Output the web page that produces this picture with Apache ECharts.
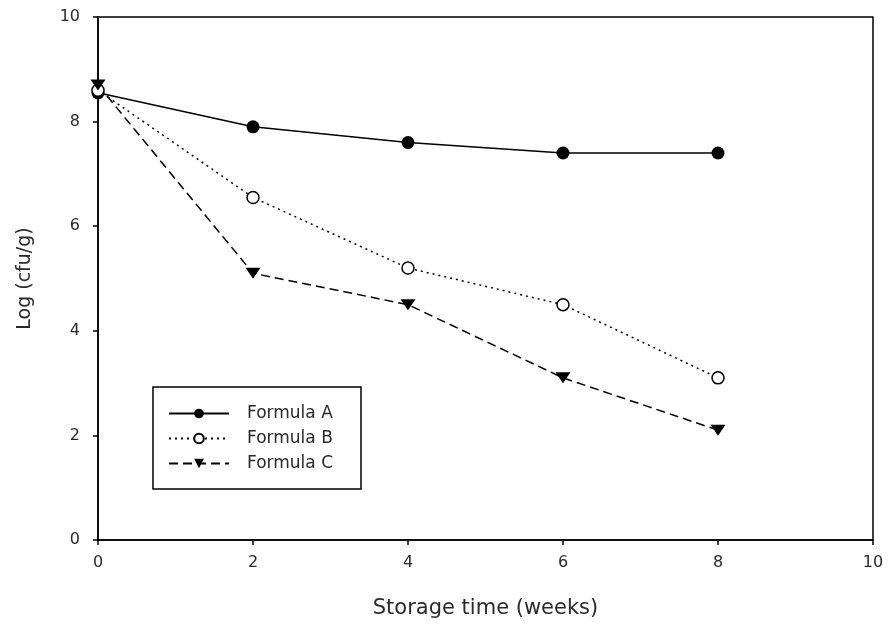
<!DOCTYPE html>
<html>
<head>
<meta charset="utf-8">
<script src="https://cdn.jsdelivr.net/npm/echarts@6/dist/echarts.min.js"></script>
<style>
  html, body { margin: 0; padding: 0; background: #fff; }
  #chart { width: 888px; height: 629px; }
</style>
</head>
<body>
<div id="chart"></div>
<script>
// Storage weeks on the x axis
const weeks = [0, 2, 4, 6, 8];
// Viable counts, log(cfu/g), for each formula
const formulaA = [8.55, 7.9, 7.6, 7.4, 7.4];
const formulaB = [8.6, 6.55, 5.2, 4.5, 3.1];
const formulaC = [8.7, 5.1, 4.5, 3.1, 2.1];
const seriesNames = ['Formula A', 'Formula B', 'Formula C'];
const xTicks = [0, 2, 4, 6, 8, 10];
const yTicks = [0, 2, 4, 6, 8, 10];

const pairs = vals => weeks.map((w, i) => [w, vals[i]]);
const FONT = '"DejaVu Sans", Verdana, sans-serif';
const TEXT = '#2a2a2a';

const chart = echarts.init(document.getElementById('chart'), null, { renderer: 'canvas' });

chart.setOption({
  animation: false,
  backgroundColor: '#fff',
  grid: { left: 98, right: 15, top: 17, bottom: 89, show: true, borderColor: '#000', borderWidth: 1.5, backgroundColor: 'transparent' },
  xAxis: {
    type: 'value', min: xTicks[0], max: xTicks[xTicks.length - 1], interval: 2,
    name: 'Storage time (weeks)', nameLocation: 'middle', nameGap: 58,
    nameTextStyle: { fontFamily: FONT, fontSize: 21, color: TEXT },
    axisLine: { lineStyle: { color: '#000', width: 1.5 } },
    axisTick: { show: true, inside: false, length: 5, lineStyle: { color: '#000', width: 1.5 } },
    axisLabel: { fontFamily: FONT, fontSize: 16, color: TEXT, margin: 15 },
    splitLine: { show: false }
  },
  yAxis: {
    type: 'value', min: yTicks[0], max: yTicks[yTicks.length - 1], interval: 2,
    name: 'Log (cfu/g)', nameLocation: 'middle', nameGap: 63, nameRotate: 90,
    nameTextStyle: { fontFamily: FONT, fontSize: 19, color: TEXT },
    axisLine: { lineStyle: { color: '#000', width: 1.5 } },
    axisTick: { show: true, inside: false, length: 5, lineStyle: { color: '#000', width: 1.5 } },
    axisLabel: { fontFamily: FONT, fontSize: 16, color: TEXT, margin: 18 },
    splitLine: { show: false }
  },
  legend: {
    orient: 'vertical', left: 153, top: 387,
    data: seriesNames,
    borderColor: '#000', borderWidth: 1.5, backgroundColor: '#fff',
    padding: [18, 28, 17, 15],
    itemWidth: 60, itemHeight: 12, itemGap: 8,
    textStyle: { fontFamily: FONT, fontSize: 17, color: TEXT, padding: [0, 0, 0, 13] }
  },
  series: [
    {
      name: seriesNames[0], type: 'line', data: pairs(formulaA),
      symbol: 'circle', symbolSize: 13,
      itemStyle: { color: '#000' },
      lineStyle: { color: '#000', width: 1.5, type: 'solid' }
    },
    {
      name: seriesNames[1], type: 'line', data: pairs(formulaB),
      symbol: 'circle', symbolSize: 12,
      itemStyle: { color: '#fff', borderColor: '#000', borderWidth: 1.5 },
      lineStyle: { color: '#000', width: 1.5, type: [2, 4] }
    },
    {
      name: seriesNames[2], type: 'line', data: pairs(formulaC),
      symbol: 'triangle', symbolRotate: 180, symbolSize: [15, 11],
      itemStyle: { color: '#000' },
      lineStyle: { color: '#000', width: 1.5, type: [9, 5] }
    }
  ]
});
</script>
</body>
</html>
